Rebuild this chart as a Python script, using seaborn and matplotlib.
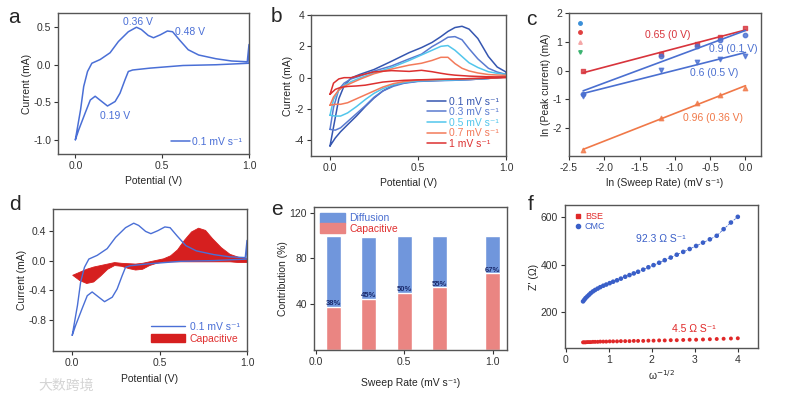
import numpy as np
import matplotlib
matplotlib.use("Agg")
import matplotlib.pyplot as plt
import seaborn as sns
from matplotlib.lines import Line2D
from matplotlib.patches import Patch

sns.set_style("ticks")
plt.rcParams['font.family'] = ['Liberation Sans', 'DejaVu Sans']
plt.rcParams['axes.unicode_minus'] = False

# ---------------- data ----------------
# a / d : CV at 0.1 mV/s (anodic then cathodic branch)
cv_up_v = [0.0, 0.015, 0.03, 0.048, 0.07, 0.095, 0.143, 0.2, 0.248, 0.305, 0.352, 0.38,
           0.42, 0.45, 0.49, 0.53, 0.56, 0.6, 0.65, 0.71, 0.81, 0.9, 0.99, 1.0]
cv_up_i = [-1.0, -0.8, -0.6, -0.29, -0.09, 0.02, 0.07, 0.16, 0.31, 0.44, 0.5, 0.47,
           0.39, 0.36, 0.4, 0.45, 0.44, 0.33, 0.2, 0.13, 0.08, 0.05, 0.04, 0.27]
cv_dn_v = [1.0, 0.81, 0.62, 0.43, 0.33, 0.305, 0.286, 0.257, 0.229, 0.185, 0.152,
           0.114, 0.086, 0.057, 0.019, 0.0]
cv_dn_i = [0.02, 0.0, -0.01, -0.045, -0.07, -0.09, -0.2, -0.38, -0.49, -0.55, -0.49,
           -0.42, -0.47, -0.64, -0.87, -1.0]

# b : CVs at several rates
b_up_v = [0, 0.02, 0.05, 0.08, 0.12, 0.17, 0.25, 0.35, 0.45, 0.52, 0.58, 0.63, 0.67,
          0.71, 0.75, 0.79, 0.84, 0.9, 0.95, 1.0]
b_dn_v = [1.0, 0.9, 0.8, 0.7, 0.6, 0.5, 0.42, 0.36, 0.3, 0.25, 0.2, 0.15, 0.1, 0.06, 0.03, 0.0]
b_labels = ['0.1 mV s⁻¹', '0.3 mV s⁻¹', '0.5 mV s⁻¹', '0.7 mV s⁻¹', '1 mV s⁻¹']
b_up_01 = [-4.36, -3.15, -1.35, -0.52, -0.02, 0.21, 0.52, 1.05, 1.6, 1.92, 2.25, 2.62, 2.95,
           3.2, 3.28, 3.1, 2.5, 1.35, 0.68, 0.36]
b_dn_01 = [0.08, -0.05, -0.12, -0.15, -0.18, -0.22, -0.33, -0.49, -0.85, -1.3, -1.85, -2.45,
           -3.0, -3.45, -3.85, -4.36]
b_up_03 = [-3.3, -1.9, -0.75, -0.35, -0.08, 0.1, 0.42, 0.75, 1.2, 1.5, 1.98, 2.3, 2.58,
           2.62, 2.42, 1.85, 1.2, 0.6, 0.36, 0.21]
b_dn_03 = [0.04, -0.05, -0.12, -0.17, -0.2, -0.24, -0.36, -0.55, -0.85, -1.25, -1.8, -2.3,
           -2.8, -3.2, -3.35, -3.3]
b_up_05 = [-2.4, -1.4, -0.8, -0.5, -0.25, -0.02, 0.3, 0.65, 1.1, 1.45, 1.75, 2.0, 2.05,
           1.75, 1.35, 0.95, 0.65, 0.38, 0.28, 0.21]
b_dn_05 = [0.04, -0.04, -0.1, -0.14, -0.17, -0.2, -0.3, -0.45, -0.7, -1.0, -1.4, -1.85,
           -2.25, -2.45, -2.45, -2.4]
b_up_07 = [-1.76, -1.23, -0.78, -0.55, -0.35, -0.1, 0.25, 0.55, 0.8, 0.92, 1.1, 1.3, 1.3,
           0.9, 0.6, 0.43, 0.3, 0.2, 0.17, 0.15]
b_dn_07 = [0.04, -0.03, -0.06, -0.09, -0.12, -0.15, -0.25, -0.38, -0.6, -0.85, -1.1, -1.35,
           -1.6, -1.7, -1.7, -1.76]
b_up_10 = [-1.06, -0.35, -0.08, 0.0, 0.0, 0.15, 0.37, 0.45, 0.4, 0.47, 0.38, 0.28, 0.21,
           0.16, 0.13, 0.1, 0.08, 0.06, 0.05, 0.04]
b_dn_10 = [0.0, -0.03, -0.06, -0.09, -0.11, -0.14, -0.17, -0.22, -0.28, -0.38, -0.48, -0.53,
           -0.56, -0.62, -0.75, -1.06]

# c : ln(peak current) vs ln(sweep rate)
c_lnrate = [-2.30, -1.20, -0.69, -0.36, 0.0]
c_0v = [-0.03, 0.57, 0.93, 1.16, 1.48]
c_01v = [-0.83, 0.49, 0.84, 1.07, 1.24]
c_05v = [-0.9, 0.02, 0.31, 0.40, 0.49]
c_036v = [-2.77, -1.66, -1.14, -0.85, -0.59]

# d : capacitive contribution region
cap_v = [0, 0.04, 0.08, 0.12, 0.16, 0.2, 0.24, 0.28, 0.32, 0.36, 0.4, 0.44, 0.48, 0.52,
         0.56, 0.6, 0.64, 0.68, 0.72, 0.76, 0.8, 0.85, 0.9, 0.95, 1.0]
cap_top = [-0.19, -0.15, -0.11, -0.08, -0.06, -0.04, -0.02, -0.03, -0.035, -0.04, -0.03,
           -0.01, 0.01, 0.03, 0.07, 0.15, 0.28, 0.39, 0.44, 0.41, 0.3, 0.18, 0.09, 0.05, 0.03]
cap_bot = [-0.19, -0.26, -0.30, -0.28, -0.2, -0.11, -0.06, -0.07, -0.1, -0.12, -0.11,
           -0.06, -0.03, -0.01, -0.01, -0.01, -0.01, -0.01, -0.01, -0.01, -0.01, -0.01,
           -0.01, -0.02, -0.02]

# e : contributions
e_rate = [0.1, 0.3, 0.5, 0.7, 1.0]
e_total = [100, 99, 100, 100, 100]
e_cap = [38, 45, 50, 55, 67]

# f : Z' vs w^-1/2
f_x = [0.40, 0.43, 0.46, 0.50, 0.54, 0.58, 0.63, 0.68, 0.74, 0.80, 0.87, 0.94, 1.02, 1.10,
       1.19, 1.28, 1.38, 1.48, 1.58, 1.68, 1.80, 1.92, 2.04, 2.17, 2.30, 2.44, 2.58, 2.73,
       2.88, 3.03, 3.19, 3.35, 3.51, 3.67, 3.84, 4.00]
f_cmc = [245, 252, 259, 266, 273, 280, 287, 293, 299, 305, 311, 316, 322, 328, 334, 341,
         349, 356, 363, 370, 379, 389, 398, 408, 419, 430, 442, 454, 466, 479, 493, 507,
         522, 550, 578, 602]
f_bse = [72, 72, 72, 73, 73, 73, 74, 74, 74, 75, 75, 75, 76, 76, 76, 77, 77, 77, 78, 78,
         78, 79, 79, 80, 80, 81, 81, 82, 83, 83, 84, 85, 86, 87, 88, 89]

# ---------------- styling ----------------
BLUE = '#4a6fd6'
RED = '#d92b2b'
W, H = 785, 397
fig = plt.figure(figsize=(7.85, 3.97), dpi=100)


def box(l, t, r, b):
    ax = fig.add_axes([l / W, 1 - b / H, (r - l) / W, (b - t) / H])
    for s in ax.spines.values():
        s.set_color('#555555')
        s.set_linewidth(1.0)
    ax.tick_params(direction='out', length=3, width=0.8, labelsize=7.5,
                   colors='#333333', pad=2)
    return ax


def color_legend(leg, colors):
    for t, c in zip(leg.get_texts(), colors):
        t.set_color(c)


# ---- a ----
ax = box(58, 13, 249, 154)
sns.lineplot(x=cv_up_v + cv_dn_v, y=cv_up_i + cv_dn_i, sort=False, estimator=None,
             color=BLUE, lw=1.1, ax=ax)
ax.set_xlim(-0.1, 1.0)
ax.set_ylim(-1.19, 0.69)
ax.set_xticks([0.0, 0.5, 1.0])
ax.set_yticks([-1.0, -0.5, 0.0, 0.5])
ax.set_xticklabels(['0.0', '0.5', '1.0'])
ax.set_yticklabels(['-1.0', '-0.5', '0.0', '0.5'])
ax.set_xlabel('Potential (V)', fontsize=7.5)
ax.set_ylabel('Current (mA)', fontsize=7.5, labelpad=1)
ax.text(0.36, 0.575, '0.36 V', color=BLUE, fontsize=7.5, ha='center', va='center')
ax.text(0.575, 0.44, '0.48 V', color=BLUE, fontsize=7.5, ha='left', va='center')
ax.text(0.14, -0.69, '0.19 V', color=BLUE, fontsize=7.5, ha='left', va='center')
leg = ax.legend([Line2D([], [], color=BLUE, lw=1.1)], ['0.1 mV s⁻¹'], loc='lower right',
                frameon=False, fontsize=7.5, handlelength=1.8, handletextpad=0.2,
                borderaxespad=0.3)
color_legend(leg, [BLUE])

# ---- b ----
ax = box(311, 15, 506, 156)
b_colors = ['#3556b0', '#5a7bd0', '#52c6ec', '#f37a5a', '#dc3030']
b_ups = [b_up_01, b_up_03, b_up_05, b_up_07, b_up_10]
b_dns = [b_dn_01, b_dn_03, b_dn_05, b_dn_07, b_dn_10]
for up, dn, col, lab in zip(b_ups, b_dns, b_colors, b_labels):
    sns.lineplot(x=b_up_v + b_dn_v, y=up + dn, sort=False, estimator=None, color=col,
                 lw=1.1, ax=ax, label=lab)
ax.set_xlim(-0.108, 1.0)
ax.set_ylim(-5, 4)
ax.set_xticks([0.0, 0.5, 1.0])
ax.set_xticklabels(['0.0', '0.5', '1.0'])
ax.set_yticks([-4, -2, 0, 2, 4])
ax.set_xlabel('Potential (V)', fontsize=7.5)
ax.set_ylabel('Current (mA)', fontsize=7.5, labelpad=1)
leg = ax.legend(loc='lower right', frameon=False, fontsize=7.5, handlelength=1.8,
                handletextpad=0.3, labelspacing=0.05, borderaxespad=0.3)
color_legend(leg, b_colors)

# ---- c ----
ax = box(569, 13, 761, 156)
c_sets = [(c_0v, '#d8343c', 's'), (c_01v, '#4a6fd0', 'o'), (c_05v, '#4a6fd0', 'v'),
          (c_036v, '#f07848', '^')]
for yv, col, mk in c_sets:
    sns.regplot(x=c_lnrate, y=yv, ci=None, ax=ax, color=col, marker=mk,
                scatter_kws={'s': 10}, line_kws={'lw': 1.2})
ax.set_xlim(-2.5, 0.22)
ax.set_ylim(-2.97, 2.0)
ax.set_xticks([-2.5, -2.0, -1.5, -1.0, -0.5, 0.0])
ax.set_xticklabels(['-2.5', '-2.0', '-1.5', '-1.0', '-0.5', '0.0'])
ax.set_yticks([-2, -1, 0, 1, 2])
ax.set_xlabel('ln (Sweep Rate) (mV s⁻¹)', fontsize=7.5)
ax.set_ylabel('ln (Peak current) (mA)', fontsize=7.5, labelpad=1)
ax.text(-1.42, 1.25, '0.65 (0 V)', color='#d8343c', fontsize=7.5, va='center')
ax.text(-0.51, 0.74, '0.9 (0.1 V)', color='#4a6fd0', fontsize=7.5, va='center')
ax.text(-0.79, -0.09, '0.6 (0.5 V)', color='#4a6fd0', fontsize=7.5, va='center')
ax.text(-0.88, -1.66, '0.96 (0.36 V)', color='#f07848', fontsize=7.5, va='center')
c_leg = [Line2D([], [], ls='', marker='o', color='#3a8fd8', ms=2.5),
         Line2D([], [], ls='', marker='o', color='#e04040', ms=2.5),
         Line2D([], [], ls='', marker='^', color='#f4a6a6', ms=2.5),
         Line2D([], [], ls='', marker='v', color='#3cb371', ms=2.5)]
ax.legend(c_leg, [''] * 4, loc='upper left', frameon=False, handlelength=1,
          handletextpad=0, labelspacing=0.25, borderaxespad=0.4, fontsize=6)

# ---- d ----
ax = box(53, 209, 247, 351)
ax.fill_between(cap_v, cap_bot, cap_top, color='#d61f1f', lw=0.6, edgecolor='#d61f1f')
sns.lineplot(x=cv_up_v + cv_dn_v, y=cv_up_i + cv_dn_i, sort=False, estimator=None,
             color=BLUE, lw=1.0, ax=ax)
ax.set_xlim(-0.11, 1.0)
ax.set_ylim(-1.21, 0.69)
ax.set_xticks([0.0, 0.5, 1.0])
ax.set_xticklabels(['0.0', '0.5', '1.0'])
ax.set_yticks([-0.8, -0.4, 0.0, 0.4])
ax.set_yticklabels(['-0.8', '-0.4', '0.0', '0.4'])
ax.set_xlabel('Potential (V)', fontsize=7.5)
ax.set_ylabel('Current (mA)', fontsize=7.5, labelpad=1)
leg = ax.legend([Line2D([], [], color=BLUE, lw=1.0), Patch(color='#d61f1f')],
                ['0.1 mV s⁻¹', 'Capacitive'], loc='lower right', frameon=False,
                fontsize=7.5, handlelength=3.2, handletextpad=0.5, labelspacing=0.2,
                borderaxespad=0.3)
color_legend(leg, [BLUE, '#e03030'])

# ---- e ----
ax = box(314, 207, 507, 350)
ax.bar(e_rate, e_total, width=0.085, color='#7096dc')
ax.bar(e_rate, e_cap, width=0.085, color='#ea8582')
for xv, cv in zip(e_rate, e_cap):
    ax.text(xv, cv + 2.5, f'{cv}%', ha='center', va='center', fontsize=5.5,
            color='#1a2a6c', fontweight='bold')
ax.set_xlim(-0.01, 1.08)
ax.set_ylim(0, 125)
ax.set_xticks([0.0, 0.5, 1.0])
ax.set_xticklabels(['0.0', '0.5', '1.0'])
ax.set_yticks([40, 80, 120])
ax.set_xlabel('Sweep Rate (mV s⁻¹)', fontsize=7.5, labelpad=8)
ax.set_ylabel('Contribution (%)', fontsize=7.5, labelpad=1)
leg = ax.legend([Patch(color='#7096dc'), Patch(color='#ea8582')], ['Diffusion', 'Capacitive'],
                loc='upper left', frameon=False, fontsize=7.5, handlelength=2.4,
                handleheight=1.0, handletextpad=0.4, labelspacing=0.0, borderaxespad=0.2)
color_legend(leg, ['#4a6fd0', '#e03030'])

# ---- f ----
ax = box(565, 205, 758, 348)
ax.plot(f_x, f_cmc, color='#3a5fc8', lw=0.5, ls='--')
sns.scatterplot(x=f_x, y=f_bse, color='#e02828', marker='o', s=8, edgecolor='none',
                ax=ax, label='BSE')
sns.scatterplot(x=f_x, y=f_cmc, color='#3a5fc8', marker='o', s=11, edgecolor='none',
                ax=ax, label='CMC')
ax.set_xlim(-0.02, 4.47)
ax.set_ylim(48, 652)
ax.set_xticks([0, 1, 2, 3, 4])
ax.set_yticks([200, 400, 600])
ax.set_xlabel('ω$^{-1/2}$', fontsize=7.5, labelpad=2)
ax.set_ylabel("Z' (Ω)", fontsize=7.5, labelpad=1)
ax.text(1.64, 510, '92.3 Ω S⁻¹', color='#3a5fc8', fontsize=7.5, va='center')
ax.text(2.46, 128, '4.5 Ω S⁻¹', color='#e02828', fontsize=7.5, va='center')
leg = ax.legend([Line2D([], [], ls='', marker='s', color='#e02828', ms=2.5),
                 Line2D([], [], ls='', marker='o', color='#3a5fc8', ms=3)], ['BSE', 'CMC'],
                loc='upper left', frameon=False, fontsize=6.5, handletextpad=0.2,
                handlelength=1.2, labelspacing=0.1, borderaxespad=0.4)
color_legend(leg, ['#e02828', '#3a5fc8'])

# panel letters
for ch, xp, yp in [('a', 8, 23), ('b', 271, 22), ('c', 526, 25),
                   ('d', 9, 210), ('e', 271, 215), ('f', 528, 210)]:
    fig.text(xp / W, 1 - yp / H, ch, fontsize=15, va='baseline', ha='left')

# watermark
fig.text(38 / W, 1 - 390 / H, '大数跨境', fontsize=10, color='#d4d4d4',
         family=['Noto Sans CJK SC', 'DejaVu Sans'])

fig.savefig('out.png', dpi=100)
